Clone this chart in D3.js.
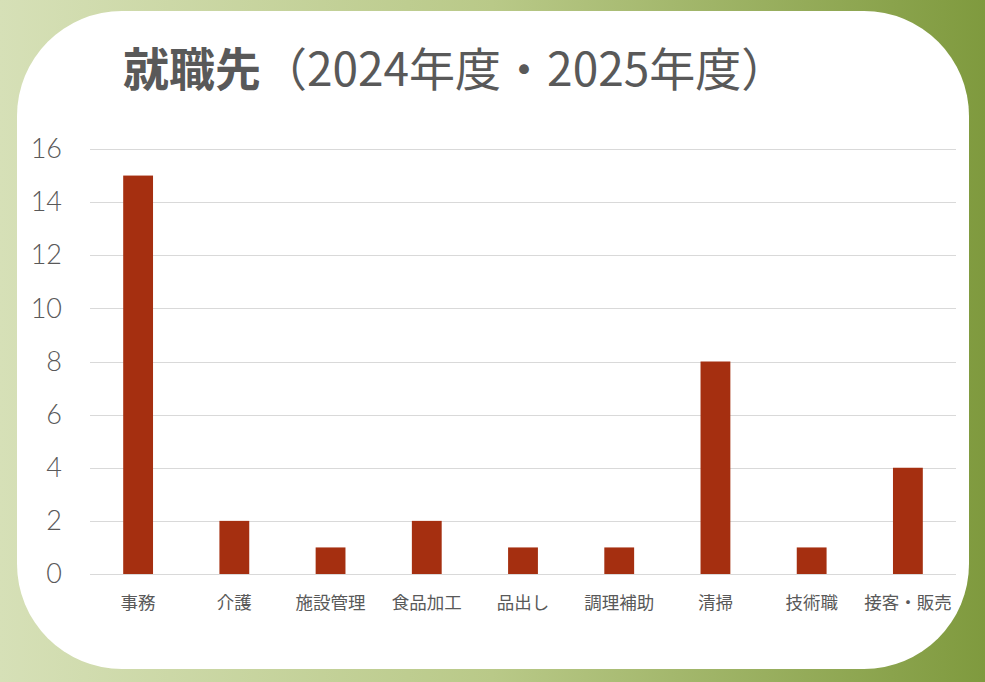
<!DOCTYPE html>
<html>
<head>
<meta charset="utf-8">
<script src="https://cdn.jsdelivr.net/npm/d3@7"></script>
<style>
  html, body { margin: 0; padding: 0; background: #fff; }
  svg { display: block; }
</style>
</head>
<body>
<div id="chart"></div>
<script>
// chart data
var categories = ['事務', '介護', '施設管理', '食品加工', '品出し', '調理補助', '清掃', '技術職', '接客・販売'];
var counts = [15, 2, 1, 2, 1, 1, 8, 1, 4];
var yTicks = [0, 2, 4, 6, 8, 10, 12, 14, 16];
var titleBold = '就職先';
var titleRest = '（2024年度・2025年度）';

var width = 985, height = 682;
var plot = { left: 90, right: 956, top: 149, bottom: 574 };
var jpFont = "'Noto Sans CJK JP', 'Noto Sans', sans-serif";
var textColor = '#595959';

var svg = d3.select('#chart').append('svg')
    .attr('width', width)
    .attr('height', height);

// background gradient
var grad = svg.append('defs').append('linearGradient')
    .attr('id', 'bg')
    .attr('x1', '0%').attr('x2', '100%')
    .attr('y1', '0%').attr('y2', '0%');
grad.append('stop').attr('offset', '0%').attr('stop-color', '#d6e0b7');
grad.append('stop').attr('offset', '50%').attr('stop-color', '#b9c988');
grad.append('stop').attr('offset', '100%').attr('stop-color', '#7f9a3e');

svg.append('rect')
    .attr('width', width)
    .attr('height', height)
    .attr('fill', 'url(#bg)');

// white panel with rounded corners
svg.append('rect')
    .attr('x', 17).attr('y', 11)
    .attr('width', 952).attr('height', 658)
    .attr('rx', 105).attr('ry', 105)
    .attr('fill', '#ffffff');

// scales
var x = d3.scaleBand()
    .domain(categories)
    .range([plot.left, plot.right])
    .paddingInner(0.69)
    .paddingOuter(0.345);

var y = d3.scaleLinear()
    .domain([0, 16])
    .range([plot.bottom, plot.top]);

// gridlines
svg.append('g')
    .selectAll('line')
    .data(yTicks)
    .enter()
    .append('line')
    .attr('x1', plot.left)
    .attr('x2', plot.right)
    .attr('y1', d => Math.round(y(d)) + 0.5)
    .attr('y2', d => Math.round(y(d)) + 0.5)
    .attr('stroke', '#d9d9d9')
    .attr('stroke-width', 1);

// y axis labels
var yAxis = d3.axisLeft(y)
    .tickValues(yTicks)
    .tickSize(0)
    .tickPadding(0);

svg.append('g')
    .attr('transform', 'translate(62,0)')
    .call(yAxis)
    .call(g => g.select('.domain').remove())
    .selectAll('text')
    .attr('font-family', "'Lato', 'Open Sans', sans-serif")
    .attr('font-weight', 300)
    .attr('font-size', 27)
    .attr('fill', textColor);

// bars
svg.append('g')
    .selectAll('rect')
    .data(categories)
    .enter()
    .append('rect')
    .attr('x', d => x(d))
    .attr('y', (d, i) => y(counts[i]))
    .attr('width', x.bandwidth())
    .attr('height', (d, i) => y(0) - y(counts[i]))
    .attr('fill', '#a52f10');

// x axis labels
var xAxis = d3.axisBottom(x)
    .tickSize(0)
    .tickPadding(0);

svg.append('g')
    .attr('transform', 'translate(0,' + plot.bottom + ')')
    .call(xAxis)
    .call(g => g.select('.domain').remove())
    .selectAll('text')
    .attr('dy', null)
    .attr('y', 35)
    .attr('font-family', jpFont)
    .attr('font-size', 17.5)
    .attr('fill', textColor);

// title
var title = svg.append('text')
    .attr('x', 123)
    .attr('y', 86)
    .attr('font-family', jpFont)
    .attr('font-size', 46)
    .attr('fill', textColor);
title.append('tspan')
    .attr('font-weight', 'bold')
    .text(titleBold);
title.append('tspan')
    .attr('font-weight', 'normal')
    .text(titleRest);
</script>
</body>
</html>
